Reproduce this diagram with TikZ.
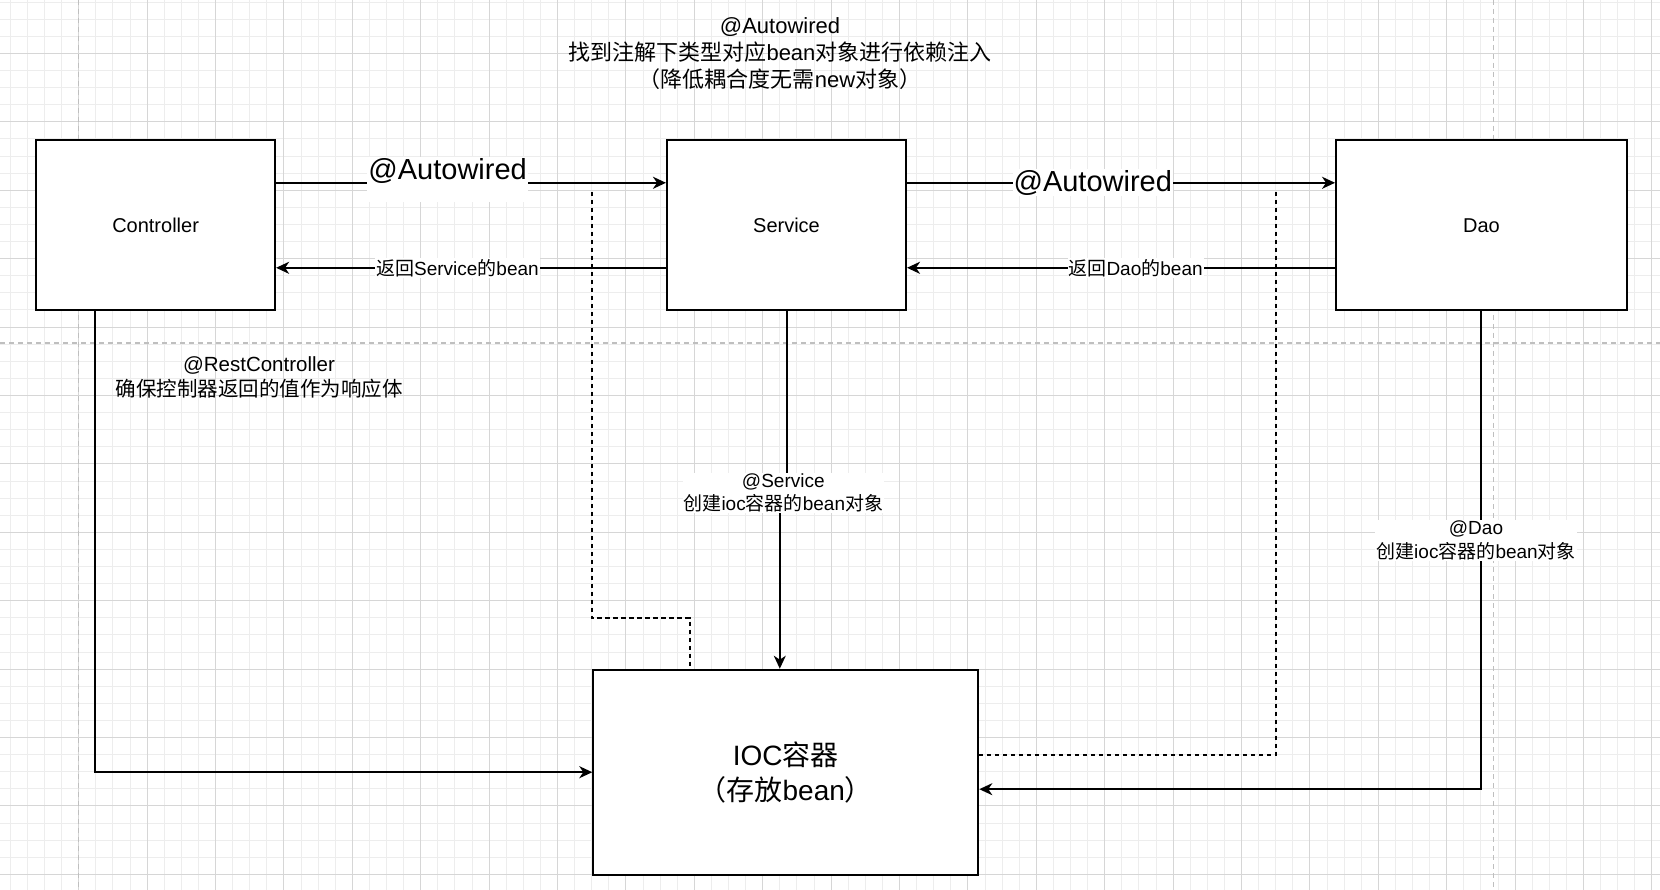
\documentclass[tikz,border=0pt]{standalone}
\usepackage{fontspec}
\setmainfont{Liberation Sans}
\newfontfamily\cjk{Noto Sans CJK SC}
\usetikzlibrary{arrows.meta}

\begin{document}
\begin{tikzpicture}[x=1pt, y=-1pt,
    minorgrid/.style={draw=gray!14, line width=1pt},
    majorgrid/.style={draw=gray!32, line width=1pt},
    pagebreak/.style={draw=gray!50, line width=1.5pt, dash pattern=on 5pt off 4pt},
    box/.style={draw, line width=2pt, fill=white, minimum width=239pt, minimum height=170pt,
                align=center, font=\fontsize{20}{24}\selectfont},
    arr/.style={-{Stealth[length=13pt, width=12pt, inset=4pt]}, line width=2pt},
    dep/.style={line width=1.7pt, dash pattern=on 4.5pt off 3.5pt},
    autolbl/.style={fill=white, inner sep=1pt, font=\fontsize{29}{34}\selectfont},
    retlbl/.style={fill=white, inner sep=1pt, font=\fontsize{19}{23}\selectfont},
    note/.style={align=center, inner sep=1pt, font=\fontsize{19}{23.5}\selectfont}
]
\useasboundingbox (0,0) rectangle (1660,890);
\fill[white] (0,0) rectangle (1660,890);

\foreach \i in {0,...,96}
    \draw[minorgrid] ({10.3+17.1*\i},0) -- ({10.3+17.1*\i},890);
\foreach \i in {0,...,51}
    \draw[minorgrid] (0,{2.2+17.1*\i}) -- (1660,{2.2+17.1*\i});
\foreach \j in {0,...,23}
    \draw[majorgrid] ({78.7+68.4*\j},0) -- ({78.7+68.4*\j},890);
\foreach \j in {0,...,12}
    \draw[majorgrid] (0,{53.5+68.4*\j}) -- (1660,{53.5+68.4*\j});

\draw[pagebreak] (78.7,0) -- (78.7,890);
\draw[pagebreak] (1493.3,0) -- (1493.3,890);
\draw[pagebreak] (0,343) -- (1660,343);

\node[box] (ctl) at (155.6,225.3) {Controller};
\node[box] (svc) at (786.5,225.3) {Service};
\node[box, minimum width=290.7pt] (dao) at (1481.4,225.3) {Dao};
\node[box, minimum width=385pt, minimum height=205pt, font=\fontsize{28}{35}\selectfont] (ioc) at (785.8,772.2)
    {IOC{\cjk 容器}\\{\cjk （存放}bean{\cjk ）}};

\node[align=center, font=\fontsize{22}{27}\selectfont] (topnote) at (780,54)
    {@Autowired\\{\cjk 找到注解下类型对应}bean{\cjk 对象进行依赖注入}\\{\cjk （降低耦合度无需}new{\cjk 对象）}};
\node[note, font=\fontsize{20.5}{25}\selectfont] (restnote) at (259,377.5) {@RestController\\{\cjk 确保控制器返回的值作为响应体}};

\coordinate (w1) at (591.7,191.7);
\coordinate (w1bend) at (591.7,618);
\coordinate (w2) at (1275.7,191.7);
\coordinate (svcmid) at (783.3,493);

\draw[dep] (w1) -- (w1bend) -| ([xshift=-96pt]ioc.north);
\draw[dep] (w2) |- ([yshift=17pt]ioc.east);

\draw[arr] ([yshift=42.5pt]ctl.east) -- node[autolbl, pos=0.44, text depth=22pt, yshift=3pt] {@Autowired} ([yshift=42.5pt]svc.west);
\draw[arr] ([yshift=42.5pt]svc.east) -- node[autolbl, pos=0.434] {@Autowired} ([yshift=42.5pt]dao.west);
\draw[arr] ([yshift=-42.5pt]svc.west) -- node[retlbl, pos=0.535] {{\cjk 返回}Service{\cjk 的}bean} ([yshift=-42.5pt]ctl.east);
\draw[arr] ([yshift=-42.5pt]dao.west) -- node[retlbl, pos=0.466] {{\cjk 返回}Dao{\cjk 的}bean} ([yshift=-42.5pt]svc.east);

\draw[arr] ([xshift=60pt]ctl.south west) |- (ioc.west);
\draw[arr] (svc.south) |- (svcmid) -| ([xshift=-6pt]ioc.north);
\draw[arr] (dao.south) |- ([yshift=-17pt]ioc.east);

\node[note, fill=white] (svcnote) at (svcmid) {@Service\\{\cjk 创建}ioc{\cjk 容器的}bean{\cjk 对象}};
\node[note, fill=white] (daonote) at (1476,540.5) {@Dao\\{\cjk 创建}ioc{\cjk 容器的}bean{\cjk 对象}};
\end{tikzpicture}
\end{document}
